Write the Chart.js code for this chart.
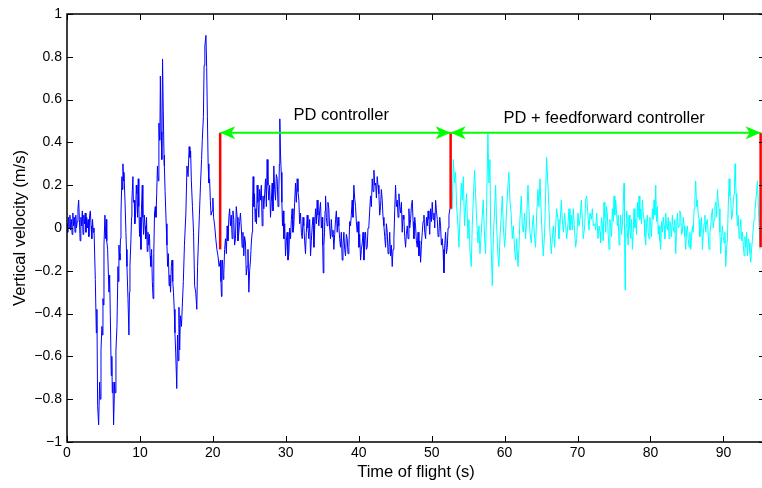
<!DOCTYPE html>
<html><head><meta charset="utf-8">
<script src="https://cdn.jsdelivr.net/npm/chart.js@4/dist/chart.umd.min.js"></script>
<style>
html,body{margin:0;padding:0;background:#fff;overflow:hidden;width:762px;height:488px}
#wrap{position:absolute;left:0;top:0;width:766px;height:488px}
</style>
</head><body><div id="wrap"><canvas id="c" width="766" height="488"></canvas></div>
<script>
const xTicks = [0,10,20,30,40,50,60,70,80,90];
const yTicks = [-1,-0.8,-0.6,-0.4,-0.2,0,0.2,0.4,0.6,0.8,1];

// PD controller flight segment (blue): [time s, vertical velocity m/s]
const bluePoints = [
[0,0.02],[0.1,-0.02],[0.2,0.05],[0.3,0.0],[0.4,0.06],[0.5,-0.01],[0.6,0.04],[0.7,-0.03],[0.8,0.07],[0.9,0.01],
[1.0,0.05],[1.1,-0.02],[1.2,0.06],[1.3,0.0],[1.4,0.03],[1.5,0.09],[1.6,0.13],[1.7,0.04],[1.8,-0.06],[1.9,0.05],
[2.0,0.01],[2.1,0.08],[2.2,-0.03],[2.3,0.06],[2.4,0.02],[2.5,0.07],[2.6,-0.02],[2.7,0.05],[2.8,0.0],[2.9,0.04],
[3.0,-0.04],[3.1,0.06],[3.2,0.08],[3.3,0.01],[3.4,-0.05],[3.5,0.04],[3.6,-0.02],
[3.7,0.0],[3.88,-0.24],[4.02,-0.49],[4.1,-0.38],[4.2,-0.83],[4.34,-0.92],[4.47,-0.72],[4.55,-0.8],[4.66,-0.57],[4.79,-0.46],
[4.85,-0.5],[4.93,-0.33],[5.0,-0.36],[5.07,-0.08],[5.2,0.06],[5.3,-0.05],[5.39,0.04],[5.45,-0.06],[5.57,-0.1],[5.75,-0.3],
[5.85,-0.22],[5.94,-0.41],[6.07,-0.69],[6.15,-0.6],[6.21,-0.77],[6.3,-0.72],[6.39,-0.92],[6.53,-0.72],[6.6,-0.77],[6.71,-0.57],
[6.85,-0.46],[6.99,-0.18],[7.05,-0.25],[7.12,-0.08],[7.2,-0.12],[7.26,-0.15],[7.33,-0.05],[7.4,0.07],[7.53,0.24],[7.6,0.18],
[7.67,0.3],[7.75,0.22],[7.81,0.26],[7.95,0.13],[8.08,-0.02],[8.15,-0.1],[8.22,-0.18],[8.36,-0.33],[8.49,-0.5],[8.56,-0.3],
[8.63,-0.18],[8.77,-0.05],[8.85,0.05],[8.9,0.13],[9.04,0.24],[9.1,0.12],[9.22,0.13],[9.3,0.02],[9.41,0.07],[9.5,0.2],
[9.59,0.16],[9.68,0.05],[9.77,0.23],[9.85,0.1],[9.95,-0.04],[10.05,0.05],[10.14,-0.1],[10.2,0.08],[10.32,0.2],[10.4,0.05],
[10.5,-0.03],[10.6,0.06],[10.7,0.01],[10.8,-0.05],[10.9,0.05],[11.0,-0.11],[11.1,-0.02],[11.2,-0.08],[11.3,-0.03],[11.4,-0.13],
[11.5,-0.18],[11.6,-0.1],[11.7,-0.25],[11.8,-0.33],[11.9,-0.12],[12.0,0.07],[12.1,0.1],[12.2,0.05],[12.3,0.16],[12.4,0.29],
[12.5,0.22],[12.6,0.49],[12.7,0.41],[12.75,0.49],[12.8,0.71],[12.9,0.45],[13.0,0.32],[13.1,0.79],[13.2,0.55],[13.3,0.34],
[13.35,0.29],[13.45,0.17],[13.6,0.02],[13.7,-0.08],[13.8,-0.18],[13.9,-0.12],[14.0,-0.27],[14.1,-0.22],[14.2,-0.3],[14.3,-0.18],
[14.4,-0.15],[14.5,-0.25],[14.6,-0.3],[14.7,-0.38],[14.8,-0.49],[14.9,-0.58],[15.05,-0.75],[15.15,-0.5],[15.25,-0.62],[15.35,-0.37],
[15.45,-0.57],[15.55,-0.41],[15.7,-0.46],[15.8,-0.37],[15.95,-0.25],[16.1,-0.08],[16.3,0.07],[16.45,0.29],[16.6,0.24],[16.75,0.38],
[16.85,0.33],[16.95,0.36],[17.05,0.22],[17.2,0.1],[17.35,-0.02],[17.5,-0.27],[17.65,-0.3],[17.8,-0.38],[17.9,-0.18],[18.0,-0.08],
[18.15,0.06],[18.3,0.2],[18.45,0.32],[18.55,0.41],[18.7,0.52],[18.8,0.76],[18.9,0.85],[19.05,0.9],[19.15,0.75],[19.25,0.52],
[19.35,0.3],[19.45,0.21],[19.55,0.23],[19.65,0.13],[19.75,0.06],[19.9,0.08],[20.0,0.14],[20.1,0.05],[20.25,0.01],[20.4,-0.05],
[20.55,-0.1],[20.7,-0.13],[20.85,-0.18],
[21.04,-0.15],[21.11,-0.25],[21.18,-0.32],[21.25,-0.2],[21.32,-0.15],[21.41,-0.24],[21.5,-0.21],[21.61,-0.1],[21.73,-0.05],[21.85,-0.12],
[21.96,0.01],[22.07,-0.06],[22.19,0.05],[22.3,0.09],[22.41,0.01],[22.52,0.06],[22.64,-0.05],[22.75,0.08],[22.87,0.04],[22.98,-0.08],
[23.1,-0.05],[23.21,0.1],[23.33,0.05],[23.44,-0.06],[23.56,-0.02],[23.67,0.03],[23.78,0.07],[23.9,0.0],[24.01,-0.09],[24.12,-0.02],
[24.24,-0.13],[24.35,-0.04],[24.47,-0.07],[24.58,-0.22],[24.7,-0.18],[24.81,-0.1],[24.93,-0.3],[25.04,-0.2],[25.16,-0.15],[25.27,-0.07],
[25.39,-0.02],[25.45,0.12],[25.52,0.24],[25.61,0.1],[25.71,0.16],[25.8,0.03],[25.89,0.09],[25.98,0.02],[26.07,0.2],[26.18,0.12],
[26.3,0.05],[26.41,0.18],[26.53,0.13],[26.64,0.2],[26.76,0.01],[26.87,0.15],[26.99,0.09],[27.1,0.16],[27.22,0.23],[27.33,0.1],
[27.44,0.32],[27.55,0.2],[27.67,0.13],[27.78,0.2],[27.9,0.05],[28.01,0.12],[28.13,0.21],[28.24,0.08],[28.36,0.29],[28.47,0.18],
[28.59,0.13],[28.7,0.25],[28.82,0.23],[28.93,0.1],[29.05,0.18],[29.12,0.3],[29.18,0.51],[29.27,0.35],[29.37,0.26],[29.46,0.12],
[29.55,0.01],[29.64,0.08],[29.73,-0.05],[29.85,0.02],[29.96,-0.13],[30.07,-0.06],[30.19,-0.02],[30.3,-0.15],[30.42,-0.12],[30.53,0.0],
[30.65,-0.05],[30.76,0.04],[30.87,0.09],[30.98,-0.02],[31.1,0.01],[31.21,0.12],[31.33,0.21],[31.44,0.12],[31.56,0.23],[31.67,0.17],
[31.79,0.13],[31.9,0.02],[32.02,0.07],[32.13,-0.02],[32.25,-0.05],[32.36,0.05],[32.47,0.01],[32.58,-0.06],[32.7,-0.12],[32.81,-0.02],
[32.93,0.06],[33.04,0.0],[33.16,-0.05],[33.27,0.04],[33.39,-0.13],[33.5,-0.06],[33.62,0.01],[33.73,0.05],[33.85,-0.09],[33.96,0.0],
[34.08,0.09],[34.19,0.02],[34.3,0.13],[34.41,0.06],[34.53,0.01],[34.64,0.08],[34.76,0.12],[34.87,0.0],[34.99,0.05],[35.06,-0.08],
[35.13,-0.21],[35.22,-0.08],[35.31,-0.02],[35.38,0.08],[35.45,0.15],[35.56,0.05],[35.67,0.01],[35.78,0.12],[35.9,0.09],[36.01,0.0],
[36.13,-0.05],[36.24,0.04],[36.36,-0.04],[36.47,-0.01],[36.59,-0.1],[36.7,-0.03],[36.82,0.04],[36.93,0.08],[37.05,-0.02],[37.16,0.05],
[37.27,0.01],[37.38,-0.05],[37.5,-0.09],[37.61,-0.02],[37.73,-0.15],[37.84,-0.08],[37.96,-0.02],[38.07,-0.1],[38.19,-0.13],[38.3,-0.03],
[38.42,-0.05],[38.53,-0.12],[38.65,-0.09],[38.76,0.03],[38.87,0.01],[38.98,0.06],[39.1,0.13],[39.21,0.05],[39.33,0.2],[39.44,0.14],
[39.56,0.1],[39.67,0.03],[39.79,-0.02],[39.9,0.03],[40.02,-0.09],[40.13,-0.03],[40.25,-0.15],[40.36,-0.1],[40.48,-0.07],[40.59,-0.02],
[40.71,-0.15],[40.82,-0.06],[40.93,-0.02],[41.04,-0.1],[41.16,-0.09],[41.27,0.0],[41.39,0.01],[41.5,0.08],[41.62,0.15],[41.73,0.1],
[41.85,0.23],[41.96,0.17],[42.08,0.27],[42.19,0.2],[42.31,0.21],[42.42,0.14],[42.53,0.24],[42.64,0.2],[42.76,0.16],[42.87,0.06],
[42.99,0.1],[43.1,0.18],[43.22,0.13],[43.33,0.05],[43.45,0.01],[43.56,-0.04],[43.68,-0.09],[43.79,0.02],[43.91,-0.02],[44.02,-0.12],
[44.14,-0.09],[44.25,-0.02],[44.36,-0.13],[44.47,-0.08],[44.59,-0.18],[44.7,-0.1],[44.82,-0.05],[44.93,0.08],[45.05,0.2],[45.16,0.1],
[45.28,0.13],[45.39,0.05],[45.51,0.16],[45.62,0.1],[45.74,0.07],[45.85,0.12],[45.96,-0.02],[46.07,0.06],[46.19,0.04],[46.3,-0.04],
[46.42,-0.09],[46.53,-0.03],[46.65,0.01],[46.76,-0.05],[46.88,0.09],[46.99,0.0],[47.11,0.04],[47.22,0.1],[47.34,0.13],[47.45,0.03],
[47.57,-0.05],[47.68,0.05],[47.79,0.01],[47.9,-0.06],[48.02,-0.09],[48.13,-0.02],[48.25,-0.13],[48.36,-0.06],[48.48,-0.16],[48.59,-0.08],
[48.71,-0.02],[48.82,0.03],[48.94,0.06],[49.05,-0.02],[49.17,-0.05],[49.28,0.05],[49.4,0.01],[49.51,0.08],[49.62,0.04],[49.73,-0.03],
[49.85,0.09],[49.96,0.03],[50.08,0.12],[50.19,0.04],[50.31,0.07],[50.42,0.0],[50.54,0.13],[50.65,0.08],[50.77,0.04],[50.88,-0.04],
[51.0,-0.02],[51.11,0.05],[51.22,0.01],[51.33,-0.08],[51.45,-0.05],[51.56,-0.1],[51.68,-0.21],[51.79,-0.08],[51.91,-0.02],[52.02,-0.12],
[52.14,-0.09],[52.25,0.0],[52.37,0.06],[52.5,0.09]
];

// PD + feedforward controller segment (cyan)
const cyanPoints = [
[52.6,0.09],[52.82,0.09],[52.96,0.32],[53.14,0.21],[53.28,0.26],[53.42,0.1],[53.6,0.01],[53.74,-0.09],[53.87,0.04],[54.06,0.21],
[54.19,0.13],[54.33,0.24],[54.51,0.01],[54.65,0.1],[54.79,0.16],[54.97,-0.05],[55.11,0.04],[55.24,-0.1],[55.43,-0.18],[55.56,0.01],
[55.7,0.13],[55.88,0.27],[56.02,0.16],[56.16,0.04],[56.34,-0.07],[56.48,0.01],[56.62,-0.12],[56.8,-0.02],[56.94,0.06],[57.07,0.13],
[57.26,-0.05],[57.39,-0.12],[57.53,0.1],[57.71,0.44],[57.85,0.21],[57.99,0.32],[58.08,0.01],[58.17,-0.1],[58.31,-0.27],[58.45,-0.05],
[58.63,0.09],[58.77,0.2],[58.9,0.01],[59.09,-0.13],[59.22,-0.18],[59.36,-0.05],[59.54,0.06],[59.68,0.15],[59.82,0.01],[60.0,-0.09],
[60.14,-0.02],[60.27,0.09],[60.46,0.2],[60.59,0.26],[60.73,0.13],[60.91,0.06],[61.05,-0.05],[61.19,0.01],[61.37,-0.1],[61.51,-0.15],
[61.65,-0.05],[61.83,-0.18],[61.97,-0.09],[62.1,0.04],[62.29,0.15],[62.42,0.01],[62.56,-0.02],[62.74,0.07],[62.88,-0.05],[63.02,0.04],
[63.2,0.2],[63.34,0.09],[63.48,-0.02],[63.66,-0.07],[63.8,0.01],[63.93,0.06],[64.12,-0.05],[64.25,-0.09],[64.39,0.06],[64.57,0.18],
[64.71,0.1],[64.85,0.23],[65.03,0.06],[65.17,-0.05],[65.3,-0.13],[65.49,-0.02],[65.62,0.16],[65.76,0.33],[65.94,0.2],[66.08,0.09],
[66.22,-0.02],[66.4,-0.12],[66.54,-0.05],[66.68,0.01],[66.86,-0.09],[67.0,0.01],[67.13,0.09],[67.32,0.04],[67.45,-0.05],[67.59,0.01],
[67.77,0.13],[67.91,0.04],[68.05,-0.02],[68.23,0.07],[68.37,0.01],[68.51,-0.05],[68.69,0.02],[68.83,0.09],[68.96,-0.01],[69.15,0.06],
[69.28,-0.01],[69.42,0.09],[69.6,-0.02],[69.74,-0.09],[69.88,-0.05],[70.06,0.07],[70.2,0.01],[70.34,0.04],[70.52,0.13],[70.66,0.04],
[70.79,-0.05],[70.98,0.01],[71.11,0.13],[71.25,0.15],[71.43,0.06],[71.57,-0.01],[71.71,0.07],[71.89,0.04],[72.03,0.09],[72.16,0.01],
[72.35,0.02],[72.48,-0.01],[72.62,0.07],[72.8,-0.05],[72.94,0.01],[73.08,-0.02],
[73.17,-0.07],[73.28,0.05],[73.4,0.01],[73.51,-0.06],[73.63,0.12],[73.74,0.05],[73.86,-0.02],[73.97,0.1],[74.09,0.06],[74.2,-0.03],
[74.32,-0.1],[74.43,0.04],[74.54,0.01],[74.66,-0.04],[74.77,0.09],[74.88,0.03],[75.0,0.15],[75.11,0.06],[75.23,0.13],[75.34,0.08],
[75.46,0.01],[75.57,0.06],[75.69,-0.08],[75.8,-0.02],[75.92,0.06],[76.03,-0.03],[76.14,0.01],[76.25,0.1],[76.37,0.21],[76.44,0.0],
[76.51,-0.29],[76.58,-0.1],[76.65,0.01],[76.74,0.08],[76.83,-0.02],[76.94,-0.08],[77.06,0.06],[77.17,0.0],[77.29,-0.05],[77.4,0.04],
[77.52,-0.1],[77.63,-0.02],[77.74,0.09],[77.86,0.0],[77.97,0.04],[78.08,-0.03],[78.2,0.12],[78.31,0.05],[78.43,0.15],[78.54,0.04],
[78.66,0.09],[78.77,0.02],[78.89,0.13],[79.0,0.07],[79.12,0.04],[79.23,-0.04],[79.35,-0.08],[79.46,0.02],[79.57,0.06],[79.69,-0.02],
[79.8,-0.05],[79.91,0.05],[80.03,0.01],[80.14,-0.04],[80.26,0.09],[80.37,0.04],[80.49,0.13],[80.6,0.06],[80.72,0.2],[80.83,0.03],
[80.95,0.1],[81.06,-0.03],[81.17,0.01],[81.29,-0.06],[81.4,-0.1],[81.51,0.03],[81.63,-0.02],[81.74,0.05],[81.86,0.01],[81.97,-0.05],
[82.09,0.07],[82.2,0.01],[82.32,-0.01],[82.43,0.05],[82.55,-0.05],[82.66,0.03],[82.78,0.01],[82.89,-0.04],[83.0,0.06],[83.11,0.0],
[83.23,-0.02],[83.34,0.04],[83.46,-0.12],[83.57,-0.02],[83.69,0.07],[83.8,0.0],[83.92,0.01],[84.03,0.08],[84.15,0.06],[84.26,-0.03],
[84.38,-0.02],[84.49,0.05],[84.6,0.01],[84.72,-0.04],[84.83,-0.1],[84.94,-0.02],[85.06,0.01],[85.17,-0.05],[85.29,-0.09],[85.4,-0.02],
[85.52,-0.1],[85.63,-0.04],[85.75,0.01],[85.86,-0.02],[85.98,0.09],[86.09,0.14],[86.2,0.22],[86.32,0.1],[86.43,0.13],[86.55,0.06],
[86.66,0.04],[86.77,-0.04],[86.89,-0.01],[87.0,0.05],[87.12,-0.1],[87.23,-0.03],[87.35,0.02],[87.46,0.06],[87.58,-0.02],[87.69,0.03],
[87.81,0.04],[87.92,-0.04],[88.03,-0.1],[88.15,-0.02],[88.26,0.01],[88.37,0.06],[88.49,0.09],[88.6,0.0],[88.72,0.04],[88.83,0.1],
[88.95,0.12],[89.06,0.05],[89.18,0.18],[89.29,0.12],[89.41,0.09],[89.52,-0.02],[89.63,-0.12],[89.75,-0.04],[89.86,0.01],[89.97,-0.04],
[90.09,-0.07],[90.2,-0.02],[90.32,-0.18],[90.43,-0.1],[90.55,-0.05],[90.66,0.1],[90.78,0.23],[90.89,0.15],[91.01,0.13],[91.12,0.04],
[91.23,0.06],[91.35,0.12],[91.46,0.16],[91.53,0.22],[91.6,0.3],[91.67,0.22],[91.74,0.16],[91.83,0.06],[91.92,0.01],[92.03,0.06],
[92.15,-0.05],[92.26,-0.01],[92.38,0.04],[92.49,-0.06],[92.61,-0.02],[92.72,-0.08],[92.84,-0.13],[92.95,-0.04],[93.06,-0.09],[93.18,-0.02],
[93.29,-0.13],[93.4,-0.05],[93.52,-0.07],[93.63,-0.12],[93.75,-0.16],[93.86,-0.1],[93.98,-0.05],[94.09,0.0],[94.21,0.04],[94.32,0.08],
[94.44,0.13],[94.55,0.17],[94.67,0.22],[94.8,0.09],[94.89,0.01],[95.03,-0.1]
];

// segment markers (red) and controller spans (green double arrows)
const markerTimes = [21, 52.6, 95.1];
const markerLows = [-0.1, 0.09, -0.09];
const markerHigh = 0.445;
const arrowSpans = [[21, 52.6], [52.6, 95.1]];
const arrowLevel = 0.445;
const spanLabels = ['PD controller', 'PD + feedforward controller'];
const spanLabelX = [37.6, 73.65];
const spanLabelY = [0.505, 0.49];

const FONT = '"Liberation Sans", Arial, Helvetica, sans-serif';
Chart.defaults.font.family = FONT;
Chart.defaults.color = '#000';

const toXY = arr => arr.map(p => ({x: p[0], y: p[1]}));

const datasets = [];
arrowSpans.forEach(s => datasets.push({
  data: [{x: s[0], y: arrowLevel}, {x: s[1], y: arrowLevel}],
  borderColor: '#00ff00', borderWidth: 2, showLine: true, pointRadius: 0
}));
markerTimes.forEach((t, i) => datasets.push({
  data: [{x: t, y: markerLows[i]}, {x: t, y: markerHigh}],
  borderColor: '#ff0000', borderWidth: 2.5, showLine: true, pointRadius: 0
}));
datasets.push({data: toXY(cyanPoints), borderColor: '#00ffff', borderWidth: 1, showLine: true, pointRadius: 0, tension: 0});
datasets.push({data: toXY(bluePoints), borderColor: '#0000ff', borderWidth: 1, showLine: true, pointRadius: 0, tension: 0});

function arrowHead(ctx, tx, ty, dir) {
  const L = 15, W = 6.5, N = 11;
  ctx.beginPath();
  ctx.moveTo(tx, ty);
  ctx.lineTo(tx - dir * L, ty - W);
  ctx.lineTo(tx - dir * N, ty);
  ctx.lineTo(tx - dir * L, ty + W);
  ctx.closePath();
  ctx.fill();
}

const framePlugin = {
  id: 'frame',
  afterDatasetsDraw(chart) {
    const {ctx, chartArea: a, scales: {x, y}} = chart;
    ctx.save();
    ctx.fillStyle = '#00ff00';
    arrowSpans.forEach(s => {
      const py = y.getPixelForValue(arrowLevel);
      arrowHead(ctx, x.getPixelForValue(s[0]), py, -1);
      arrowHead(ctx, x.getPixelForValue(s[1]), py, 1);
    });
    ctx.fillStyle = '#000';
    ctx.font = '16.5px ' + FONT;
    ctx.textAlign = 'center';
    ctx.textBaseline = 'alphabetic';
    spanLabels.forEach((t, i) => ctx.fillText(t, x.getPixelForValue(spanLabelX[i]), y.getPixelForValue(spanLabelY[i])));
    ctx.strokeStyle = '#000';
    ctx.lineWidth = 1.5;
    ctx.beginPath();
    ctx.moveTo(a.left, a.top); ctx.lineTo(a.right, a.top); ctx.lineTo(a.right, a.bottom);
    ctx.lineTo(a.left, a.bottom); ctx.closePath(); ctx.stroke();
    ctx.lineWidth = 1;
    const T = 6;
    xTicks.forEach(v => {
      const px = Math.round(x.getPixelForValue(v)) + 0.5;
      ctx.beginPath();
      ctx.moveTo(px, a.bottom); ctx.lineTo(px, a.bottom - T);
      ctx.moveTo(px, a.top); ctx.lineTo(px, a.top + T);
      ctx.stroke();
    });
    yTicks.forEach(v => {
      const py = Math.round(y.getPixelForValue(v)) + 0.5;
      ctx.beginPath();
      ctx.moveTo(a.left, py); ctx.lineTo(a.left + T, py);
      ctx.moveTo(a.right, py); ctx.lineTo(a.right - T, py);
      ctx.stroke();
    });
    ctx.restore();
  }
};

new Chart(document.getElementById('c'), {
  type: 'scatter',
  data: {datasets},
  plugins: [framePlugin],
  options: {
    responsive: false,
    animation: false,
    devicePixelRatio: 1,
    layout: {padding: {top: 14, right: 1, left: 0, bottom: 0}},
    plugins: {legend: {display: false}, tooltip: {enabled: false}},
    elements: {line: {borderJoinStyle: 'round'}},
    scales: {
      x: {
        type: 'linear', min: 0, max: 95.7,
        afterBuildTicks: s => { s.ticks = xTicks.map(v => ({value: v})); },
        afterFit: s => { s.height = 46; },
        grid: {display: false, drawTicks: false},
        border: {display: false},
        ticks: {font: {size: 14}, padding: 3, maxRotation: 0, autoSkip: false, callback: v => String(v)},
        title: {display: true, text: 'Time of flight (s)', font: {size: 16.5}, padding: {top: 0, bottom: 6}}
      },
      y: {
        type: 'linear', min: -1, max: 1,
        afterBuildTicks: s => { s.ticks = yTicks.map(v => ({value: v})); },
        afterFit: s => { s.width = 67; },
        grid: {display: false, drawTicks: false},
        border: {display: false},
        ticks: {font: {size: 14}, padding: 5, autoSkip: false,
          callback: v => v === 0 ? '0' : String(v).replace('-', '\u2212')},
        title: {display: true, text: 'Vertical velocity (m/s)', font: {size: 16.5}, padding: {top: 11, bottom: 0}}
      }
    }
  }
});
</script>
</body></html>
